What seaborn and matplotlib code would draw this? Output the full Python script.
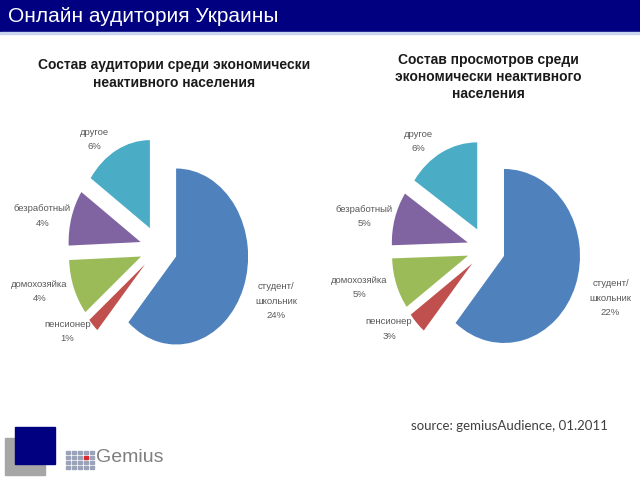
import matplotlib
matplotlib.use("Agg")
import numpy as np
import matplotlib.pyplot as plt
import seaborn as sns
from matplotlib.patches import Rectangle

sns.set_theme(style="white")
plt.rcParams['font.family'] = ['Liberation Sans', 'DejaVu Sans']

# ---- data ----
header = "Онлайн аудитория Украины"
title_left = "Состав аудитории среди экономически\nнеактивного населения"
title_right = "Состав просмотров среди\nэкономически неактивного\nнаселения"
categories = ["студент/\nшкольник", "пенсионер", "домохозяйка", "безработный", "другое"]
# labelled values
audience_pct = [24, 1, 4, 4, 6]
views_pct = [22, 3, 5, 5, 6]
# slice sizes as drawn in the picture (share of the pie, %)
audience_slices = [24, 1, 4, 4, 6]
views_slices = [61, 4, 9.5, 10, 15.5]
source_text = "source: gemiusAudience, 01.2011"

colors = sns.color_palette(["#4F81BD", "#C0504D", "#9BBB59", "#8064A2", "#4BACC6"])
# label placement factors along the slice bisector (x and y separately)
label_rx = [1.49, 1.50, 1.51, 1.42, 1.66]
label_ry = [1.43, 1.10, 1.13, 1.06, 1.14]

W, H = 640, 480
fig = plt.figure(figsize=(6.4, 4.8), dpi=100)


def px_axes(cx, cy, rx, ry, xr=1.6, yr=1.5):
    left = (cx - xr * rx) / W
    bottom = (H - (cy + yr * ry)) / H
    ax = fig.add_axes([left, bottom, 2 * xr * rx / W, 2 * yr * ry / H])
    return ax


def draw_pie(ax, sizes, values, explode_amt):
    wedges, _ = ax.pie(sizes, colors=colors, startangle=90, counterclock=False,
                       explode=[explode_amt] * len(sizes), radius=1,
                       wedgeprops=dict(linewidth=0))
    for w, cat, v, fx, fy in zip(wedges, categories, values, label_rx, label_ry):
        th = np.deg2rad((w.theta1 + w.theta2) / 2)
        cx, cy = w.center
        ax.text(cx + fx * np.cos(th), cy + fy * np.sin(th), f"{cat}\n{v}%",
                ha="center", va="center", multialignment="center",
                fontsize=6.8, color="#595959", linespacing=1.75, clip_on=False)
    ax.set_aspect("auto")
    ax.set_xlim(-1.6, 1.6)
    ax.set_ylim(-1.5, 1.5)
    ax.axis("off")


ax1 = px_axes(158.6, 248.4, 72, 88)
draw_pie(ax1, audience_slices, audience_pct, 0.26)
ax2 = px_axes(486.1, 248.6, 76, 87)
draw_pie(ax2, views_slices, views_pct, 0.25)

# header bar
fig.patches.append(Rectangle((0, 1 - 32 / H), 1, 32 / H, transform=fig.transFigure,
                             color="#000080", zorder=0))
fig.patches.append(Rectangle((0, 1 - 34 / H), 1, 2 / H, transform=fig.transFigure,
                             color="#C9D4EE", zorder=0))
fig.text(8 / W, 1 - 16 / H, header, color="white", fontsize=15, va="center", ha="left")

# titles
fig.text(174 / W, 1 - 74 / H, title_left, ha="center", va="center", fontsize=10,
         fontweight="bold", color="#1a1a1a", linespacing=1.28)
fig.text(488 / W, 1 - 77 / H, title_right, ha="center", va="center", fontsize=10,
         fontweight="bold", color="#1a1a1a", linespacing=1.28)

# source
fig.text(411 / W, 1 - 426 / H, source_text, ha="left", va="center", fontsize=9.5,
         color="#404040", family=["Lato", "DejaVu Sans"])

# logo
fig.patches.append(Rectangle((5 / W, 1 - 475 / H), 40 / W, 37 / H, transform=fig.transFigure,
                             color="#A6A6A6", zorder=1))
fig.patches.append(Rectangle((15 / W, 1 - 464 / H), 40 / W, 37 / H, transform=fig.transFigure,
                             color="#000080", zorder=2))
for i in range(5):
    for j in range(4):
        col = "#D9282F" if (i == 3 and j == 2) else "#9AA3B8"
        fig.patches.append(Rectangle(((66 + i * 6) / W, 1 - (469 - j * 5) / H), 4 / W, 3.5 / H,
                                     transform=fig.transFigure, color=col, zorder=2))
fig.text(96 / W, 1 - 458 / H, "Gemius", ha="left", va="center", fontsize=14,
         color="#7F7F7F")

fig.savefig("out.png", dpi=100)
